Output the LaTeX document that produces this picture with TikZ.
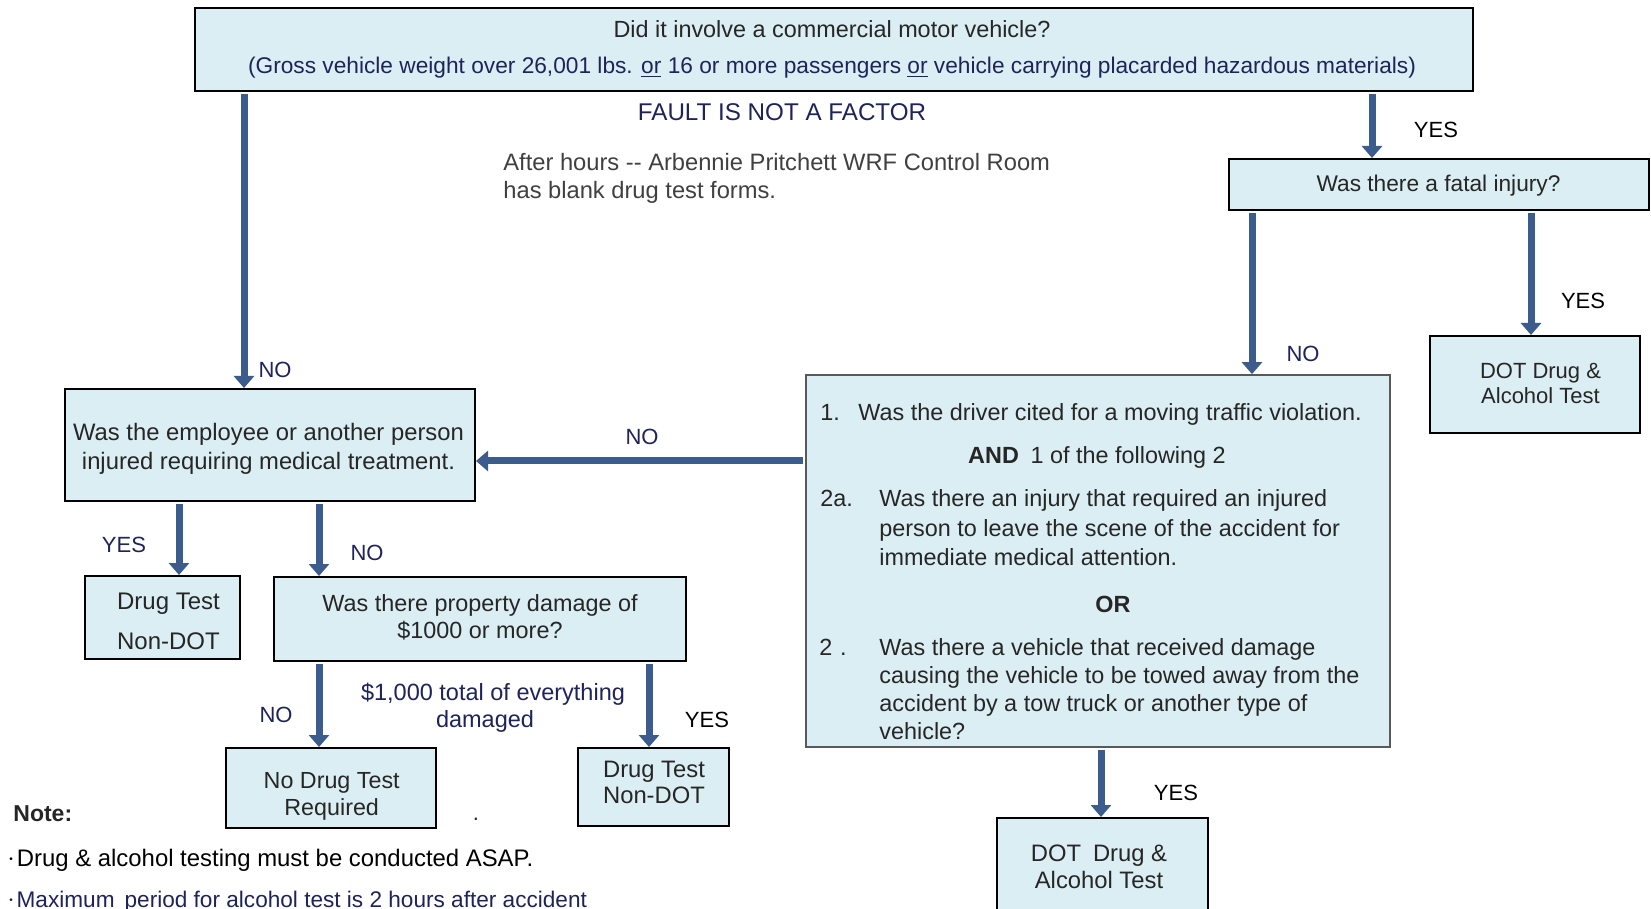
\documentclass[tikz,border=0pt]{standalone}
\usepackage{fontspec}
\setmainfont{Liberation Sans}
\usetikzlibrary{arrows.meta}
\definecolor{boxfill}{RGB}{219,238,244}
\definecolor{arrowc}{RGB}{59,92,140}
\definecolor{txt}{RGB}{38,38,38}
\definecolor{navy}{RGB}{30,35,90}
\definecolor{greytxt}{RGB}{64,64,64}
\begin{document}
\begin{tikzpicture}[x=0.5pt,y=-0.5pt, font=\fontsize{11}{14}\selectfont, text=txt,
 fs/.style={font=\fontsize{#1}{14}\selectfont},
 box/.style={draw=black, line width=1pt, fill=boxfill, inner sep=0pt},
 boxtext/.style={inner sep=0pt, align=center},
 bigbox/.style={draw=black!65, line width=0.9pt, fill=boxfill, inner sep=0pt},
 arr/.style={draw=arrowc, line width=3.5pt, -{Triangle[width=10pt,length=6pt]}, shorten <=1pt},
 nolbl/.style={text=navy, inner sep=0pt},
 yeslbl/.style={text=black, inner sep=0pt},
 btxt/.style={anchor=base west, inner sep=0pt},
 ctxt/.style={anchor=base, inner sep=0pt}]
\useasboundingbox (0,0) rectangle (1651,909);
\clip (0,0) rectangle (1651,909);
\fill[white] (0,0) rectangle (1651,909);

% boxes
\node[box, minimum width=639pt, minimum height=41.5pt] (top) at (834,49.5) {};
\node[box, minimum width=210pt, minimum height=25.5pt] (fatal) at (1439,184.5) {};
\node[box, minimum width=105pt, minimum height=48.5pt] (dotR) at (1535,384.5) {};
\node[bigbox, minimum width=292pt, minimum height=186pt] (big) at (1098,561) {};
\node[box, minimum width=205pt, minimum height=56pt] (emp) at (270,445) {};
\node[box, minimum width=77.5pt, minimum height=41.5pt] (dt1) at (162.5,617.5) {};
\node[box, minimum width=206pt, minimum height=42pt] (prop) at (480,619) {};
\node[box, minimum width=105pt, minimum height=40pt] (ndt) at (331,788) {};
\node[box, minimum width=75.5pt, minimum height=39pt] (dt2) at (653.5,787) {};
\node[box, minimum width=105.5pt, minimum height=49pt] (dotB) at (1102.5,867) {};

% box texts
\node[boxtext, fs=11.7] (topt) at (832,49.5)
 {Did it involve a commercial motor vehicle?\\[4pt]{\fontsize{11.35}{14}\selectfont\color{navy}(Gross vehicle weight over 26,001 lbs. \underline{or} 16 or more passengers \underline{or} vehicle carrying placarded hazardous materials)}};
\node[boxtext, fs=11.35] (fatalt) at (1438.5,186) {Was there a fatal injury?};
\node[boxtext, fs=11] (dotRt) at (1540.5,383.5) {DOT Drug \&\\[-1.4pt]Alcohol Test};
\node[boxtext, fs=11.9] (empt) at (268.5,449) {Was the employee or another person\\[0.75pt]injured requiring medical treatment.};
\node[boxtext, fs=12] (dt1t) at (168.5,621.5) {Drug Test\\[6pt]Non-DOT};
\node[boxtext, fs=11.7] (propt) at (480,617.5) {Was there property damage of\\[-0.8pt]\$1000 or more?};
\node[boxtext, fs=11.65] (ndtt) at (331.7,796.5) {No Drug Test\\[-0.8pt]Required};
\node[boxtext, fs=11.9] (dt2t) at (654,782.5) {Drug Test\\[-1.4pt]Non-DOT};
\node[boxtext, fs=11.9] (dotBt) at (1099,867) {DOT\enspace Drug \&\\[-0.8pt]Alcohol Test};

% big box text
\begin{scope}[fs=11.7]
\node[btxt] (b1n) at (820,421) {1.};
\node[btxt] (b1t) at (858,421) {Was the driver cited for a moving traffic violation.};
\node[ctxt] (band) at (1097,464) {\textbf{AND}\enspace 1 of the following 2};
\node[btxt] (b2n) at (820,507) {2a.};
\node[btxt] (b2a) at (879,507) {Was there an injury that required an injured};
\node[btxt] (b2b) at (879,537) {person to leave the scene of the accident for};
\node[btxt] (b2c) at (879,566) {immediate medical attention.};
\node[ctxt] (bor) at (1113,612) {\textbf{OR}};
\node[btxt] (b3n) at (819,655) {2\,\,.};
\node[btxt] (b3a) at (879,655) {Was there a vehicle that received damage};
\node[btxt] (b3b) at (879,683) {causing the vehicle to be towed away from the};
\node[btxt] (b3c) at (879,711) {accident by a tow truck or another type of};
\node[btxt] (b3d) at (879,739) {vehicle?};
\end{scope}

% connector coordinates
\coordinate (xa) at (244,0);
\coordinate (xb) at (1372,0);
\coordinate (xc) at (1252,0);
\coordinate (xd) at (1531,0);
\coordinate (ya) at (0,461);
\coordinate (xe) at (179,0);
\coordinate (xf) at (319,0);
\coordinate (xg) at (649,0);
\coordinate (xh) at (1101,0);

\draw[arr] (top.south -| xa) -- (emp.north -| xa);
\draw[arr] (top.south -| xb) -- (fatal.north -| xb);
\draw[arr] (fatal.south -| xc) -- (big.north -| xc);
\draw[arr] (fatal.south -| xd) -- (dotR.north -| xd);
\draw[arr] (big.west |- ya) -- (emp.east |- ya);
\draw[arr] (emp.south -| xe) -- (dt1.north -| xe);
\draw[arr] (emp.south -| xf) -- (prop.north -| xf);
\draw[arr] (prop.south -| xf) -- (ndt.north -| xf);
\draw[arr] (prop.south -| xg) -- (dt2.north -| xg);
\draw[arr] (big.south -| xh) -- (dotB.north -| xh);

% labels
\node[nolbl] (l1) at (275,370) {NO};
\node[yeslbl] (l2) at (1436,130) {YES};
\node[nolbl] (l3) at (1303,354) {NO};
\node[yeslbl] (l4) at (1583,301) {YES};
\node[nolbl] (l5) at (642,437) {NO};
\node[nolbl] (l6) at (124,545) {YES};
\node[nolbl] (l7) at (367,553) {NO};
\node[nolbl] (l8) at (276,715) {NO};
\node[yeslbl] (l9) at (707,720) {YES};
\node[yeslbl] (l10) at (1176,793) {YES};
\node[ctxt, text=navy, fs=11.75] (dmg1) at (493,700) {\$1,000 total of everything};
\node[ctxt, text=navy, fs=11.75] (dmg2) at (485,727) {damaged};

\node[ctxt, text=navy, fs=12.1] (fault) at (782,121) {FAULT IS NOT A FACTOR};
\node[btxt, text=greytxt, fs=11.85] (ah1) at (503,171) {After hours -{}- Arbennie Pritchett WRF Control Room};
\node[btxt, text=greytxt, fs=11.85] (ah2) at (503,199) {has blank drug test forms.};
\node[ctxt] (dot) at (476,820) {.};

% notes
\node[btxt, text=txt, fs=11.5] (note) at (13,821) {\textbf{Note:}};
\node[btxt, text=black, fs=11.95] (n1) at (9,866) {\raisebox{2pt}{\fontsize{5}{5}\selectfont •}\,Drug \& alcohol testing must be conducted ASAP.};
\node[btxt, text=navy, fs=11.3] (n2) at (9,907) {\raisebox{2pt}{\fontsize{5}{5}\selectfont •}\,Maximum\, period for alcohol test is 2 hours after accident};
\end{tikzpicture}
\end{document}
